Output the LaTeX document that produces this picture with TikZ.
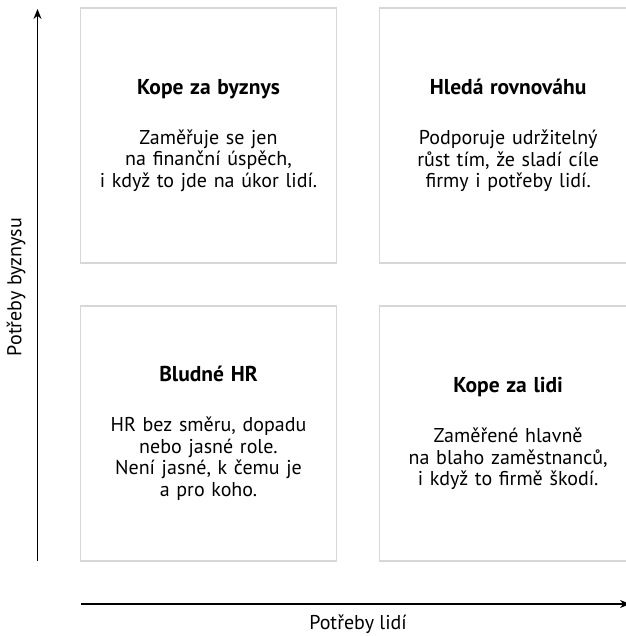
\documentclass[tikz,border=0pt]{standalone}
\usepackage{fontspec}
\setmainfont{PT Sans}
\usetikzlibrary{arrows.meta, positioning}
\definecolor{boxgray}{RGB}{215,215,215}

\tikzset{
    quad/.style={draw=boxgray, line width=1.2pt, minimum size=255pt, outer sep=0pt,
        text width=250pt, align=center, font=\fontsize{20}{21.5}\selectfont},
    axis/.style={line width=1.3pt, -{Stealth[length=10pt, width=8pt]}},
    axislabel/.style={font=\fontsize{20}{21.5}\selectfont}
}
\newcommand{\quadtitle}[1]{{\fontsize{21.5}{21.5}\selectfont\bfseries #1}}

\begin{document}
\begin{tikzpicture}[x=1pt, y=-1pt, node distance=43pt]
        \useasboundingbox (0,0) rectangle (625,636);

        % Draw the quadrants
        \node[quad] (kb) at (208.5,135.5)
            {\quadtitle{Kope za byznys}\\[28.5pt] Zaměřuje se jen\\ na finanční úspěch,\\ i když to jde na úkor lidí.};
        \node[quad, right=of kb] (hr)
            {\quadtitle{Hledá rovnováhu}\\[28.5pt] Podporuje udržitelný\\ růst tím, že sladí cíle\\ firmy i potřeby lidí.};
        \node[quad, below=of kb] (bh)
            {\quadtitle{Bludné HR}\\[28.5pt] HR bez směru, dopadu\\ nebo jasné role.\\ Není jasné, k čemu je\\ a pro koho.};
        \node[quad, below=of hr] (kl)
            {\quadtitle{Kope za lidi}\\[28.5pt] Zaměřené hlavně\\ na blaho zaměstnanců,\\ i když to firmě škodí.};

        % Draw the axes
        \coordinate (y0) at (37.5,561);
        \coordinate (y1) at (37.5,9);
        \coordinate (x0) at (81,604);
        \coordinate (x1) at (630,604);
        \draw[axis] (y0) -- (y1);
        \draw[axis] (x0) -- (x1);

        \node[axislabel, rotate=90] (ly) at (16,287) {Potřeby byznysu};
        \node[axislabel] (lx) at (358,624) {Potřeby lidí};
\end{tikzpicture}
\end{document}
